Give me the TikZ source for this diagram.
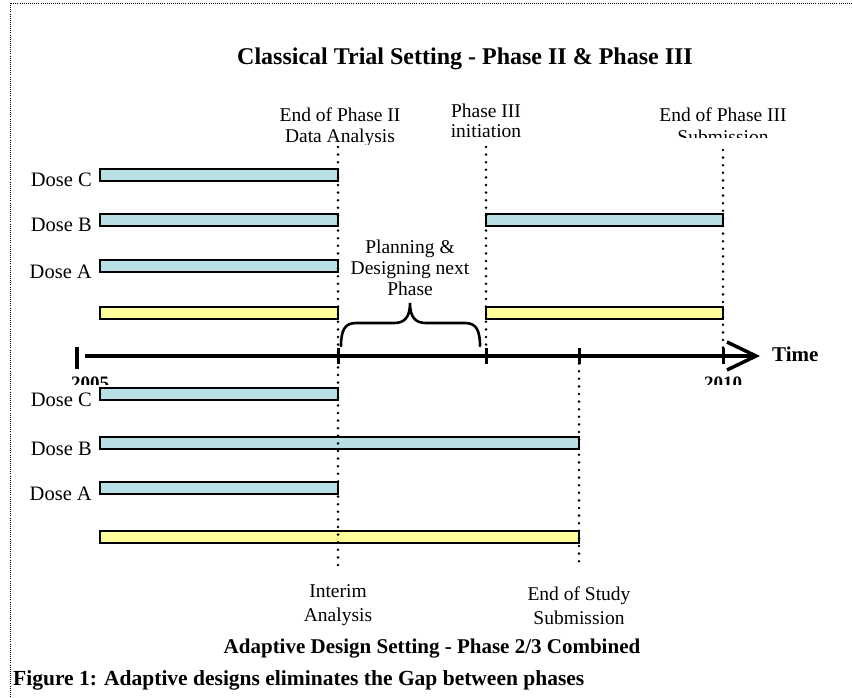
\documentclass[tikz,border=0pt]{standalone}
\usepackage{fontspec}
\setmainfont{Liberation Serif}
\usetikzlibrary{calc}
\definecolor{barblue}{HTML}{B8E0E4}
\definecolor{baryellow}{HTML}{FFFF99}
\begin{document}
\begin{tikzpicture}[x=1pt,y=-1pt,
  bar/.style={draw=black, line width=1.6pt},
  bluebar/.style={bar, fill=barblue},
  yellowbar/.style={bar, fill=baryellow},
  dotline/.style={line width=2.8pt, line cap=round, dash pattern=on 0pt off 7.6pt},
  framedots/.style={line width=0.9pt, dash pattern=on 0.9pt off 1.2pt},
  axisline/.style={line width=3.5pt},
  tickmark/.style={line width=3pt},
  lbl/.style={font=\fontsize{19.5}{22}\selectfont, anchor=base, inner sep=0pt},
  doselbl/.style={font=\fontsize{20.5}{24}\selectfont, anchor=base east, inner sep=0pt},
  boldlbl/.style={font=\fontsize{21}{24}\selectfont\bfseries, inner sep=0pt},
  yearlbl/.style={font=\fontsize{19}{22}\selectfont\bfseries, anchor=base, inner sep=0pt}]
\useasboundingbox (0,0) rectangle (852,698);
% frame
\draw[framedots] (852,3) -- (10,3) -- (10,698);
% title
\node[font=\fontsize{24}{28}\selectfont\bfseries, anchor=base, inner sep=0pt] (title) at (465,65) {Classical Trial Setting - Phase II \& Phase III};
% top labels (clipped)
\begin{scope}
\clip (270,95) rectangle (410,145);
\node[lbl] (l1a) at (340,122) {End of Phase II};
\node[lbl] (l1b) at (340,143) {Data Analysis};
\end{scope}
\begin{scope}
\clip (440,95) rectangle (535,140);
\node[lbl] (l2a) at (486,118) {Phase III};
\node[lbl] (l2b) at (486,138) {initiation};
\end{scope}
\begin{scope}
\clip (650,95) rectangle (800,138);
\node[lbl] (l4a) at (723,122) {End of Phase III};
\node[lbl] (l4b) at (723,144) {Submission};
\end{scope}
% top dose labels
\node[doselbl] (tdc) at (92,187) {Dose C};
\node[doselbl] (tdb) at (92,232) {Dose B};
\node[doselbl] (tda) at (92,278) {Dose A};
% top bars
\draw[bluebar] (100,169) rectangle (338,181);
\draw[bluebar] (100,214) rectangle (338,226);
\draw[bluebar] (486,214) rectangle (723,226);
\draw[bluebar] (100,260) rectangle (338,272);
\draw[yellowbar] (100,307) rectangle (338,319);
\draw[yellowbar] (486,307) rectangle (723,319);
% brace label
\node[lbl] (p1) at (410,253) {Planning \&};
\node[lbl] (p2) at (410,274) {Designing next};
\node[lbl] (p3) at (410,295) {Phase};
% brace
\coordinate (bl) at (341,346);
\coordinate (br) at (480,346);
\coordinate (bt) at (410,303);
\draw[line width=2.6pt, line cap=round]
  (bl) .. controls (341,330) and (345,323) .. (356,323) -- (394,323)
  .. controls (404,323) and (410,318) .. (bt)
  .. controls (410,318) and (416,323) .. (426,323) -- (465,323)
  .. controls (476,323) and (480,330) .. (br);
% axis
\coordinate (axs) at (85,356);
\coordinate (axe) at (756,356);
\draw[axisline] (axs) -- (axe);
\draw[axisline, line join=miter] ($(axe)+(-29,-14)$) -- (axe) -- ($(axe)+(-29,14)$);
\draw[axisline] (77,347) -- (77,369);
\foreach \x in {338,486,579,723} \draw[tickmark] (\x,348) -- (\x,364);
\node[boldlbl, anchor=base west] (time) at (772,361) {Time};
\begin{scope}
\clip (60,366) rectangle (760,384);
\node[yearlbl] (y1) at (90,389) {2005};
\node[yearlbl] (y2) at (723,389) {2010};
\end{scope}
% bottom dose labels
\node[doselbl] (bdc) at (92,406) {Dose C};
\node[doselbl] (bdb) at (92,455) {Dose B};
\node[doselbl] (bda) at (92,500) {Dose A};
% bottom bars
\draw[bluebar] (100,388) rectangle (338,400);
\draw[bluebar] (100,437) rectangle (579,449);
\draw[bluebar] (100,482) rectangle (338,494);
\draw[yellowbar] (100,531) rectangle (579,543);
% dotted vertical lines
\coordinate (v1t) at (338,147);
\coordinate (v1b) at (338,572);
\coordinate (v2t) at (486,147);
\coordinate (v2b) at (486,356);
\coordinate (v3t) at (579,356);
\coordinate (v3b) at (579,567);
\coordinate (v4t) at (723,150);
\coordinate (v4b) at (723,356);
\draw[dotline] (v1t) -- (v1b);
\draw[dotline] (v2t) -- (v2b);
\draw[dotline] (v3t) -- (v3b);
\draw[dotline] (v4t) -- (v4b);
% bottom labels
\node[lbl] (ia) at (338,597) {Interim};
\node[lbl] (ib) at (338,621) {Analysis};
\node[lbl] (ea) at (579,600) {End of Study};
\node[lbl] (eb) at (579,624) {Submission};
\node[boldlbl, anchor=base] (atitle) at (432,653) {Adaptive Design Setting - Phase 2/3 Combined};
\node[font=\fontsize{21.5}{24}\selectfont\bfseries, anchor=base west, inner sep=0pt] (cap) at (13,685) {Figure 1: Adaptive designs eliminates the Gap between phases};
\end{tikzpicture}
\end{document}
